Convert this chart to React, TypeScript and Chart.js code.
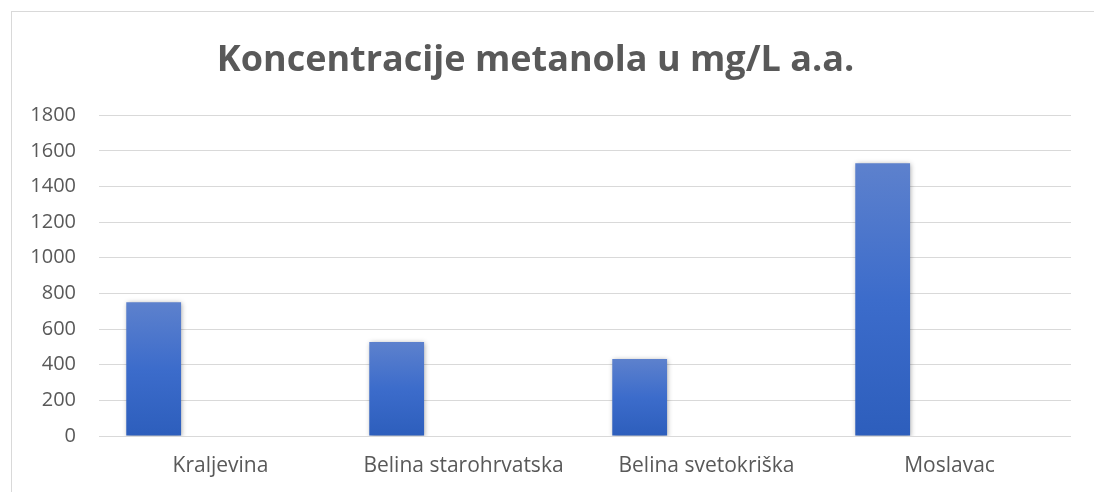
import React, { useEffect, useRef } from "react";
import { Chart, registerables } from "chart.js";

Chart.register(...registerables);

const TITLE = "Koncentracije metanola u mg/L a.a.";
const CATEGORIES = ["Kraljevina", "Belina starohrvatska", "Belina svetokriška", "Moslavac"];
const METHANOL = [750, 527, 432, 1530];
const EMPTY_SERIES: (number | null)[] = [null, null, null, null];
const Y_MIN = 0;
const Y_MAX = 1800;
const Y_STEP = 200;

const FONT = "'Open Sans', 'DejaVu Sans', sans-serif";
const TEXT = "#595959";
const GRID = "#D9D9D9";

const framePlugin = {
  id: "frame",
  beforeDraw(chart: any) {
    const c = chart.ctx;
    c.save();
    c.fillStyle = "#ffffff";
    c.fillRect(0, 0, chart.width, chart.height);
    c.strokeStyle = GRID;
    c.lineWidth = 1;
    c.strokeRect(11.5, 11.5, chart.width + 50, chart.height + 50);
    c.restore();
  },
};

const shadowPlugin = {
  id: "barShadow",
  beforeDatasetsDraw(chart: any) {
    const c = chart.ctx;
    c.save();
    c.shadowColor = "rgba(0,0,0,0.35)";
    c.shadowBlur = 5;
    c.shadowOffsetX = 1;
    c.shadowOffsetY = 1;
  },
  afterDatasetsDraw(chart: any) {
    chart.ctx.restore();
  },
};

function barGradient(context: any) {
  const chart = context.chart;
  const y = chart.scales?.y;
  const v = context.raw;
  if (!y || v == null) return "#3A6ACB";
  const top = y.getPixelForValue(v);
  const base = y.getPixelForValue(0);
  if (!isFinite(top) || !isFinite(base) || top === base) return "#3A6ACB";
  const g = chart.ctx.createLinearGradient(0, top, 0, base);
  g.addColorStop(0, "#5D81CD");
  g.addColorStop(0.5, "#3C6CCB");
  g.addColorStop(1, "#2D5EBC");
  return g;
}

export default function App() {
  const ref = useRef<HTMLCanvasElement | null>(null);

  useEffect(() => {
    document.body.style.margin = "0";
    if (!ref.current) return;
    const chart = new Chart(ref.current, {
      type: "bar",
      data: {
        labels: CATEGORIES,
        datasets: [
          {
            label: "Metanol",
            data: METHANOL,
            backgroundColor: barGradient,
            borderWidth: 0,
            categoryPercentage: 1.1,
            barPercentage: 0.41,
          },
          {
            label: "",
            data: EMPTY_SERIES,
            backgroundColor: "#ED7D31",
            categoryPercentage: 1.1,
            barPercentage: 0.41,
          },
        ],
      },
      options: {
        animation: false,
        responsive: true,
        maintainAspectRatio: false,
        layout: { padding: { left: 0, right: 23, top: 0, bottom: 0 } },
        plugins: {
          legend: { display: false },
          tooltip: { enabled: false },
          title: {
            display: true,
            text: TITLE,
            color: TEXT,
            font: { family: FONT, size: 36, weight: "bold" },
            padding: { top: 39, bottom: 33 },
          },
        },
        scales: {
          x: {
            grid: { display: false, drawTicks: false },
            border: { display: false },
            ticks: {
              color: TEXT,
              font: { family: FONT, size: 21 },
              padding: 17,
              maxRotation: 0,
              autoSkip: false,
            },
            afterFit(s: any) {
              s.height = 56;
            },
          },
          y: {
            min: Y_MIN,
            max: Y_MAX,
            grid: { color: GRID, lineWidth: 1, drawTicks: false },
            border: { display: false },
            ticks: {
              stepSize: Y_STEP,
              color: TEXT,
              font: { family: FONT, size: 20 },
              padding: 23,
              callback: (v: any) => String(v),
            },
            afterFit(s: any) {
              s.width = 99;
            },
          },
        },
      },
      plugins: [framePlugin, shadowPlugin],
    });
    return () => chart.destroy();
  }, []);

  return (
    <div style={{ position: "absolute", left: 0, top: 0, width: 1094, height: 492 }}>
      <canvas ref={ref} />
    </div>
  );
}
